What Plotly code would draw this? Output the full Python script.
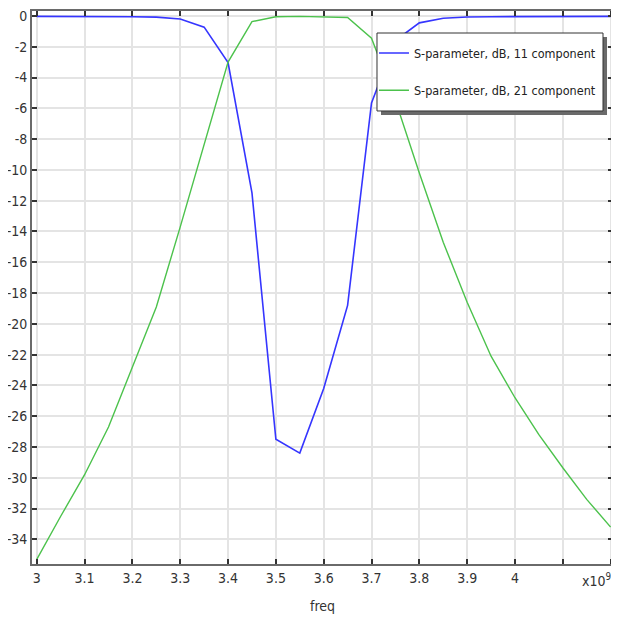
import plotly.graph_objects as go

# frequency in units of 1e9 Hz
freq = [3.00, 3.05, 3.10, 3.15, 3.20, 3.25, 3.30, 3.35, 3.40, 3.45, 3.50, 3.55, 3.60,
        3.65, 3.70, 3.75, 3.80, 3.85, 3.90, 3.95, 4.00, 4.05, 4.10, 4.15, 4.20]

s11_db = [-0.03, -0.03, -0.03, -0.04, -0.05, -0.08, -0.2, -0.73, -3.03, -11.5, -27.5, -28.4, -24.2,
          -18.8, -5.65, -1.6, -0.45, -0.15, -0.07, -0.05, -0.04, -0.03, -0.03, -0.03, -0.03]

s21_db = [-35.3, -32.5, -29.8, -26.7, -22.8, -18.9, -13.7, -8.4, -3.0, -0.37, -0.05, -0.03, -0.05,
          -0.1, -1.45, -5.5, -10.2, -14.7, -18.6, -22.1, -24.8, -27.2, -29.35, -31.4, -33.2]

series_names = ["S-parameter, dB, 11 component", "S-parameter, dB, 21 component"]

x_tickvals = [3.0, 3.1, 3.2, 3.3, 3.4, 3.5, 3.6, 3.7, 3.8, 3.9, 4.0]
x_ticktext = ["3", "3.1", "3.2", "3.3", "3.4", "3.5", "3.6", "3.7", "3.8", "3.9", "4"]
x_unlabelled_ticks = [4.1, 4.2]
x_multiplier = "x10<sup>9</sup>"

y_tickvals = [0, -2, -4, -6, -8, -10, -12, -14, -16, -18, -20, -22, -24, -26, -28, -30, -32, -34]
y_ticktext = ["0", "-2", "-4", "-6", "-8", "-10", "-12", "-14", "-16", "-18", "-20", "-22",
              "-24", "-26", "-28", "-30", "-32", "-34"]

FONT = "DejaVu Sans Condensed"
GRID = "#e4e4e4"

fig = go.Figure()
fig.add_trace(go.Scatter(x=freq, y=s11_db, mode="lines", name=series_names[0],
                         line=dict(color="#3535ff", width=1.6), legendgroup="a"))
fig.add_trace(go.Scatter(x=freq, y=s21_db, mode="lines", name=series_names[1],
                         line=dict(color="#4cc24c", width=1.4), legendgroup="b"))

axis_common = dict(
    showgrid=True, gridcolor=GRID, gridwidth=1.5,
    showline=True, linecolor="#6a6a6a", linewidth=2, mirror="ticks",
    ticks="inside", ticklen=5, tickwidth=1.5, tickcolor="#333333",
    zeroline=False, automargin=False, ticklabeloverflow="allow",
    tickfont=dict(family=FONT, size=14, color="#333333"),
)

fig.update_xaxes(range=[2.99, 4.205], tickmode="array", tickvals=x_tickvals, ticktext=x_ticktext,
                 minor=dict(tickmode="array", tickvals=x_unlabelled_ticks, ticks="inside", ticklen=5,
                            tickwidth=1.5, tickcolor="#333333", showgrid=True, gridcolor=GRID,
                            gridwidth=1.5),
                 title=dict(text="freq", font=dict(family=FONT, size=14, color="#333333"), standoff=16),
                 **axis_common)
fig.update_yaxes(range=[-35.6, 0.32], tickmode="array", tickvals=y_tickvals, ticktext=y_ticktext,
                 **axis_common)

fig.add_annotation(text=x_multiplier, xref="paper", yref="paper", x=1.0, y=0,
                   xanchor="right", yanchor="top", yshift=-5, showarrow=False,
                   font=dict(family=FONT, size=14, color="#333333"))

# legend box: drop shadow + white framed panel
fig.add_shape(type="rect", xref="paper", yref="paper", x0=0.6007, x1=0.9897, y0=0.8119, y1=0.9530,
              fillcolor="#6a6a6a", line=dict(width=0), layer="above")
fig.add_shape(type="rect", xref="paper", yref="paper", x0=0.5938, x1=0.9828, y0=0.8192, y1=0.9602,
              fillcolor="white", line=dict(color="#333333", width=1), layer="above")

# the page adds an 8px body margin, so the figure is 8px smaller and margins shifted
fig.update_layout(
    width=611, height=611,
    margin=dict(l=24, r=6, t=3, b=55),
    paper_bgcolor="white", plot_bgcolor="white",
    font=dict(family=FONT, size=14, color="#333333"),
    legend=dict(x=0.5886, y=0.9505, xanchor="left", yanchor="top",
                bgcolor="rgba(0,0,0,0)", borderwidth=0,
                font=dict(family=FONT, size=12.5, color="#222222"),
                itemwidth=30, tracegroupgap=18),
    showlegend=True,
)

fig.write_html("out.html")
